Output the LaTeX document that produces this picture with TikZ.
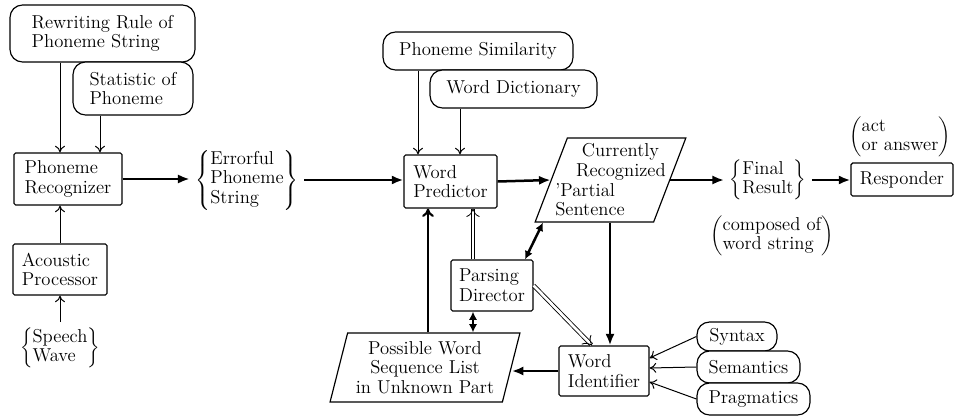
\documentclass[tikz,border=0pt]{standalone}
\usepackage{tikz}
\usetikzlibrary{shapes.geometric,arrows.meta}

\tikzset{
  procbox/.style={draw,line width=0.7pt,rounded corners=1pt,align=left,inner sep=2pt},
  knowbox/.style={draw,line width=0.7pt,rounded corners=7.5pt,align=left,fill=white,inner sep=2pt},
  databox/.style={draw,line width=0.7pt,trapezium,trapezium stretches=true,inner sep=1pt},
  feed/.style={line width=0.6pt,-{To[length=4pt,width=6pt]}},
  flow/.style={line width=1.5pt,-{Latex[length=7pt,width=5.5pt]}},
  flowopen/.style={line width=1.3pt,-{To[length=5pt,width=7pt]}},
  twoway/.style={line width=1.5pt,{Latex[length=5pt,width=5pt]}-{Latex[length=5pt,width=5pt]}},
  dbl/.style={double,double distance=1.6pt,line width=0.5pt,-{To[length=5pt,width=8pt]}}
}

\begin{document}
\begin{tikzpicture}[x=0.6pt,y=-0.6pt,font=\fontsize{11.2pt}{11.8pt}\selectfont]
        \useasboundingbox (0,0) rectangle (954,416);
        % left part
        \node[knowbox,minimum width=111pt,minimum height=34.2pt] (rewr) at (102.5,33.5) {Rewriting Rule of\\Phoneme String};
        \node[knowbox,minimum width=72pt,minimum height=31.8pt] (stat) at (133,88.5) {Statistic of\\Phoneme};
        \node[procbox,minimum width=64.8pt,minimum height=31.2pt] (reco) at (68,179) {Phoneme\\Recognizer};
        \node[procbox,minimum width=56.4pt,minimum height=30.6pt] (acou) at (60,269.5) {Acoustic\\Processor};
        \node (speech) at (60,348) {$\left\{\begin{tabular}{@{}l@{}}Speech\\Wave\end{tabular}\right\}$};
        \node (err) at (247,180) {$\left\{\begin{tabular}{@{}l@{}}Errorful\\Phoneme\\String\end{tabular}\right\}$};
        % middle part
        \node[knowbox,minimum width=114pt,minimum height=22.8pt] (simi) at (478,51) {Phoneme Similarity};
        \node[knowbox,minimum width=100.2pt,minimum height=22.8pt] (dict) at (513.5,89) {Word Dictionary};
        \node[procbox,minimum width=55.8pt,minimum height=31.8pt] (wpred) at (450.5,181.5) {Word\\Predictor};
        \node[databox,align=left,inner xsep=-8.5pt,trapezium left angle=68,trapezium right angle=112,
              minimum width=90.6pt,minimum height=50.4pt] (cur) at (610.5,180)
              {\hspace*{16pt}Currently\\\hspace*{12.5pt}Recognized\\'Partial\\Sentence};
        \node[procbox,minimum width=49.2pt,minimum height=30.6pt] (pars) at (492,285.5) {Parsing\\Director};
        \node[databox,align=center,trapezium left angle=74,trapezium right angle=106,
              minimum width=114pt,minimum height=41.4pt] (poss) at (425,367.5)
              {Possible Word\\Sequence List\\in Unknown Part};
        \node[procbox,minimum width=54pt,minimum height=30pt] (wid) at (604,371) {Word\\Identifier};
        % right part
        \node[knowbox,minimum width=48pt,minimum height=17.4pt] (syn) at (737,336.5) {Syntax};
        \node[knowbox,minimum width=61.8pt,minimum height=19.2pt] (sem) at (748.5,367) {Semantics};
        \node[knowbox,minimum width=67.8pt,minimum height=19.2pt] (prag) at (753.5,399) {Pragmatics};
        \node (final) at (768,180) {$\left\{\begin{tabular}{@{}l@{}}Final\\Result\end{tabular}\right\}$};
        \node (comp) at (772,236) {$\left(\begin{tabular}{@{}l@{}}composed of\\word string\end{tabular}\right)$};
        \node[procbox,minimum width=61.2pt,minimum height=19.8pt] (resp) at (902,179.5) {Responder};
        \node (act) at (900,137) {$\left(\begin{tabular}{@{}l@{}}act\\or answer\end{tabular}\right)$};

        % helper columns and rows
        \coordinate (c60) at (60,0);
        \coordinate (c100) at (100,0);
        \coordinate (c418) at (418,0);
        \coordinate (c428) at (428,0);
        \coordinate (c460) at (460,0);
        \coordinate (c473) at (473,0);
        \coordinate (c525) at (525,0);
        \coordinate (c543) at (543,0);
        \coordinate (c592) at (592,0);
        \coordinate (c610) at (610,0);
        \coordinate (r358) at (0,358);
        \coordinate (r368) at (0,368);
        \coordinate (r382) at (0,382);

        \draw[feed] (rewr.south -| c60) -- (reco.north -| c60);
        \draw[feed] (stat.south -| c100) -- (reco.north -| c100);
        \draw[feed] (acou.north -| c60) -- (reco.south -| c60);
        \draw[feed] (speech.north) -- (acou.south);
        \draw[flow] (reco.east) -- (reco.east -| err.west);
        \draw[flow] (err.east) -- (err.east -| wpred.west);
        \draw[feed] (simi.south -| c418) -- (wpred.north -| c418);
        \draw[feed] (dict.south -| c460) -- (wpred.north -| c460);
        \draw[flow] (wpred.east) -- (cur.west);
        \draw[flow] (cur.east) -- (cur.east -| final.west);
        \draw[flow] (final.east) -- (final.east -| resp.west);
        \draw[flow] (cur.south -| c610) -- (wid.north -| c610);
        \draw[twoway] (pars.north -| c525) -- (cur.south -| c543);
        \draw[dbl] (pars.north -| c473) -- (wpred.south -| c473);
        \draw[twoway] (pars.south -| c473) -- (poss.north -| c473);
        \draw[dbl] (pars.east) -- (wid.north -| c592);
        \draw[flow] (wid.west) -- (wid.west -| poss.east);
        \draw[flowopen] (poss.north -| c428) -- (wpred.south -| c428);
        \draw[feed] (syn.west) -- (wid.east |- r358);
        \draw[feed] (sem.west) -- (wid.east |- r368);
        \draw[feed] (prag.west) -- (wid.east |- r382);
      \end{tikzpicture}
\end{document}
